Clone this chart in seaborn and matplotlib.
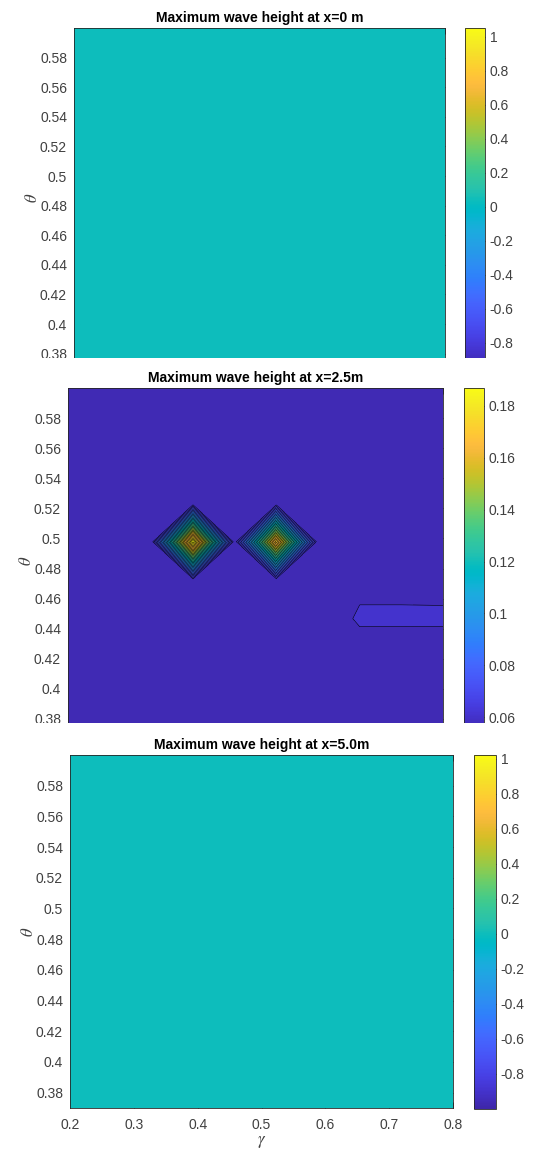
import numpy as np
import matplotlib
matplotlib.use("Agg")
import matplotlib.pyplot as plt
import seaborn as sns
from matplotlib.patches import Rectangle
from matplotlib.colors import Normalize
from matplotlib.cm import ScalarMappable
from matplotlib.ticker import FuncFormatter

# ---------------- data ----------------
gamma = [0.2, 0.2667, 0.3333, 0.4, 0.4667, 0.5333, 0.6, 0.6667, 0.7333, 0.8]
theta = [0.37, 0.3956, 0.4211, 0.4467, 0.4722, 0.4978, 0.5233, 0.5489, 0.5744, 0.6]

titles = ["Maximum wave height at x=0 m",
          "Maximum wave height at x=2.5m",
          "Maximum wave height at x=5.0m"]

# wave height at x = 0 m (flat field)
height_x0 = [[0.0] * 10 for _ in range(10)]
# wave height at x = 5.0 m (flat field)
height_x5 = [[0.0] * 10 for _ in range(10)]
# wave height at x = 2.5 m  (rows: theta, cols: gamma)
B = 0.0536
height_x25 = [
    [B, B, B, B, B, B, B, B, B, B],
    [B, B, B, B, B, B, B, B, B, B],
    [B, B, B, B, B, B, B, 0.05474, 0.05474, 0.05474],
    [B, B, B, B, B, B, B, 0.05911, 0.05911, 0.05908],
    [B, B, B, B, B, B, B, 0.05656, 0.05656, 0.05650],
    [B, B, B, 0.1868, B, 0.1720, B, B, B, B],
    [B, B, B, B, B, B, B, B, B, B],
    [B, B, B, B, B, B, B, B, B, B],
    [B, B, B, B, B, B, B, B, B, B],
    [B, B, B, B, B, B, B, B, B, B],
]

cbar_ranges = [(-0.95, 1.05), (0.0536, 0.1868), (-1.0, 1.02)]
field_ranges = [(-1.0, 1.02), (0.0536, 0.1868), (-1.0, 1.02)]
cbar_ticks = [[-0.8, -0.6, -0.4, -0.2, 0, 0.2, 0.4, 0.6, 0.8, 1.0],
              [0.06, 0.08, 0.10, 0.12, 0.14, 0.16, 0.18],
              [-0.8, -0.6, -0.4, -0.2, 0, 0.2, 0.4, 0.6, 0.8, 1.0]]
yticks = [0.38, 0.40, 0.42, 0.44, 0.46, 0.48, 0.50, 0.52, 0.54, 0.56, 0.58]
xticks = [0.2, 0.3, 0.4, 0.5, 0.6, 0.7, 0.8]
n_levels = 30

# ---------------- style ----------------
parula = [
    (0.2422, 0.1504, 0.6603), (0.2504, 0.1650, 0.7076), (0.2578, 0.1818, 0.7511),
    (0.2647, 0.1978, 0.7952), (0.2706, 0.2147, 0.8364), (0.2751, 0.2342, 0.8710),
    (0.2783, 0.2559, 0.8991), (0.2803, 0.2782, 0.9221), (0.2813, 0.3006, 0.9414),
    (0.2810, 0.3228, 0.9579), (0.2795, 0.3447, 0.9717), (0.2760, 0.3667, 0.9829),
    (0.2699, 0.3892, 0.9906), (0.2602, 0.4123, 0.9952), (0.2440, 0.4358, 0.9988),
    (0.2206, 0.4603, 0.9973), (0.1963, 0.4847, 0.9892), (0.1834, 0.5074, 0.9798),
    (0.1786, 0.5289, 0.9682), (0.1764, 0.5499, 0.9520), (0.1687, 0.5703, 0.9359),
    (0.1540, 0.5902, 0.9218), (0.1460, 0.6091, 0.9079), (0.1380, 0.6276, 0.8973),
    (0.1248, 0.6459, 0.8883), (0.1113, 0.6635, 0.8763), (0.0952, 0.6798, 0.8598),
    (0.0689, 0.6948, 0.8394), (0.0297, 0.7082, 0.8163), (0.0036, 0.7203, 0.7917),
    (0.0067, 0.7312, 0.7660), (0.0433, 0.7411, 0.7394), (0.0964, 0.7500, 0.7120),
    (0.1408, 0.7584, 0.6842), (0.1717, 0.7670, 0.6554), (0.1938, 0.7758, 0.6251),
    (0.2161, 0.7843, 0.5923), (0.2470, 0.7918, 0.5567), (0.2906, 0.7973, 0.5188),
    (0.3406, 0.8008, 0.4789), (0.3909, 0.8029, 0.4354), (0.4456, 0.8024, 0.3909),
    (0.5044, 0.7993, 0.3480), (0.5616, 0.7942, 0.3045), (0.6174, 0.7876, 0.2612),
    (0.6720, 0.7793, 0.2227), (0.7242, 0.7698, 0.1910), (0.7738, 0.7598, 0.1646),
    (0.8203, 0.7498, 0.1535), (0.8634, 0.7406, 0.1596), (0.9035, 0.7330, 0.1774),
    (0.9393, 0.7288, 0.2100), (0.9728, 0.7298, 0.2394), (0.9956, 0.7434, 0.2371),
    (0.9970, 0.7659, 0.2199), (0.9952, 0.7893, 0.2028), (0.9892, 0.8136, 0.1885),
    (0.9786, 0.8386, 0.1766), (0.9676, 0.8639, 0.1643), (0.9610, 0.8890, 0.1537),
    (0.9597, 0.9135, 0.1423), (0.9628, 0.9373, 0.1265), (0.9691, 0.9606, 0.1064),
    (0.9769, 0.9839, 0.0805),
]

sns.set_theme(style="white")
plt.rcParams["font.family"] = ["Liberation Sans", "DejaVu Sans"]
plt.rcParams["axes.unicode_minus"] = False
plt.rcParams["mathtext.fontset"] = "stix"

cmap = sns.blend_palette(parula, n_colors=256, as_cmap=True)

W, H = 536, 1152
fig = plt.figure(figsize=(W / 100, H / 100), dpi=100)
fig.patch.set_facecolor("white")


def rect(left, top, right, bottom):
    return [left / W, 1 - bottom / H, (right - left) / W, (bottom - top) / H]


ax_boxes = [rect(74, 28, 445, 368.5), rect(68, 388, 443, 734), rect(70, 755, 453, 1108)]
cb_boxes = [rect(465, 28, 485, 368.5), rect(464, 388, 484, 734), rect(474, 755, 496, 1109)]

fields = [height_x0, height_x25, height_x5]


def _fmt(v, p):
    if abs(v) < 1e-9:
        return "0"
    return "%g" % round(v, 6)


fmt = FuncFormatter(_fmt)

G = np.array(gamma)
T = np.array(theta)
tick_col = "#404040"
edge_col = "#262626"

for i in range(3):
    ax = fig.add_axes(ax_boxes[i])
    cax = fig.add_axes(cb_boxes[i])
    Z = np.array(fields[i])
    fnorm = Normalize(*field_ranges[i])
    cnorm = Normalize(*cbar_ranges[i])
    if i == 1:
        levels = np.linspace(field_ranges[i][0], field_ranges[i][1], n_levels)
        ax.contourf(G, T, Z, levels=levels, cmap=cmap, norm=fnorm)
        ax.contour(G, T, Z, levels=levels[1:-1], colors="black", linewidths=0.4)
    else:
        ax.pcolormesh(G, T, Z, cmap=cmap, norm=fnorm, shading="gouraud")
    ax.set_xlim(0.2, 0.8)
    ax.set_ylim(0.37, 0.6)
    ax.set_xticks(xticks)
    ax.set_yticks(yticks)
    ax.xaxis.set_major_formatter(fmt)
    ax.yaxis.set_major_formatter(fmt)
    ax.tick_params(direction="in", top=True, right=True, bottom=True, left=True,
                   length=4, width=0.6, color=edge_col, labelcolor=tick_col,
                   labelsize=10)
    ax.tick_params(axis="y", pad=5)
    ax.tick_params(axis="x", pad=7)
    if i < 2:
        ax.tick_params(labelbottom=False)
    else:
        ax.set_xlabel(r"$\gamma$", fontsize=12, color=tick_col, labelpad=2)
    ax.set_ylabel(r"$\theta$", fontsize=12, color=tick_col, labelpad=0)
    for s in ax.spines.values():
        s.set_color(edge_col)
        s.set_linewidth(0.6)
    ax.set_title(titles[i], fontweight="bold", fontsize=10, color="black", pad=4)

    cb = fig.colorbar(ScalarMappable(norm=cnorm, cmap=cmap), cax=cax)
    cb.set_ticks(cbar_ticks[i])
    cb.ax.yaxis.set_major_formatter(fmt)
    cb.ax.tick_params(direction="in", length=3, width=0.6, color=edge_col,
                      labelcolor=tick_col, labelsize=10, pad=3.5)
    cb.outline.set_edgecolor(edge_col)
    cb.outline.set_linewidth(0.6)

# screenshot crop of the two upper panels
for top_px, bot_px in [(357.5, 371), (722.5, 737)]:
    fig.patches.append(Rectangle((0, 1 - bot_px / H), 1, (bot_px - top_px) / H,
                                 transform=fig.transFigure, facecolor="white",
                                 edgecolor="none", zorder=50))

fig.savefig("out.png", dpi=100, facecolor="white")
